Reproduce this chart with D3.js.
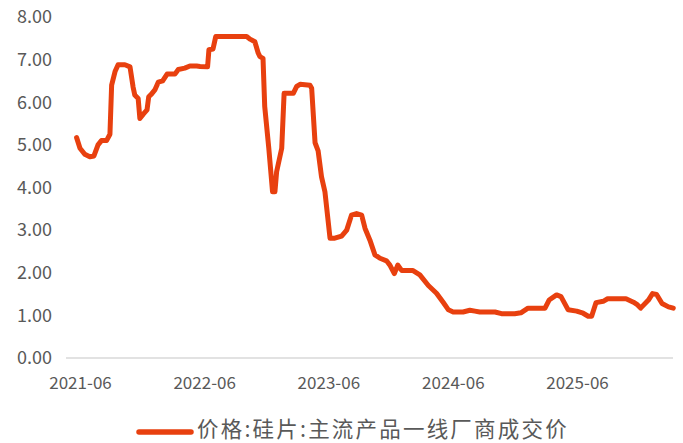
<!DOCTYPE html>
<html>
<head>
<meta charset="utf-8">
<script src="https://cdn.jsdelivr.net/npm/d3@7"></script>
<style>
  html, body { margin: 0; padding: 0; background: #ffffff; }
  svg { display: block; }
  text { font-family: "Noto Sans CJK SC", "Noto Sans", sans-serif; fill: #595959; }
</style>
</head>
<body>
<svg id="chart" width="683" height="443"></svg>
<script>
// 价格:硅片:主流产品一线厂商成交价 (元/片)
const dates = [
  "2021-05-22","2021-06-01","2021-06-15","2021-06-30","2021-07-12","2021-07-24","2021-08-03","2021-08-18",
  "2021-08-28","2021-09-02","2021-09-12","2021-09-21","2021-10-11","2021-10-26","2021-11-04","2021-11-09",
  "2021-11-19","2021-11-24","2021-12-04","2021-12-15","2021-12-20","2021-12-28","2022-01-07","2022-01-17",
  "2022-01-30","2022-02-12","2022-03-07","2022-03-17","2022-04-05","2022-04-20","2022-05-10","2022-05-20",
  "2022-06-11","2022-06-15","2022-06-27","2022-07-05","2022-10-04","2022-10-14","2022-10-28","2022-11-07",
  "2022-11-12","2022-11-21","2022-11-26","2022-12-08","2022-12-19","2022-12-26","2022-12-31","2023-01-15",
  "2023-01-22","2023-02-18","2023-02-28","2023-03-10","2023-04-08","2023-04-13","2023-04-23","2023-05-02",
  "2023-05-12","2023-05-22","2023-06-06","2023-06-20","2023-07-10","2023-07-25","2023-08-08","2023-08-23",
  "2023-09-07","2023-09-17","2023-10-01","2023-10-16","2023-10-31","2023-11-19","2023-11-29","2023-12-12",
  "2023-12-22","2024-01-03","2024-02-05","2024-02-25","2024-03-21","2024-04-14","2024-05-04","2024-05-19",
  "2024-06-02","2024-07-01","2024-07-21","2024-08-05","2024-08-19","2024-10-03","2024-10-22","2024-11-30",
  "2024-12-18","2025-01-08","2025-02-27","2025-03-11","2025-04-02","2025-04-15","2025-05-06","2025-05-31",
  "2025-06-19","2025-07-04","2025-07-14","2025-07-27","2025-08-17","2025-08-30","2025-10-23","2025-11-14",
  "2025-11-24","2025-12-05","2025-12-28","2026-01-09","2026-01-21","2026-02-06","2026-02-25","2026-03-11"
];
const prices = [
  5.17, 4.92, 4.78, 4.72, 4.74, 5.00, 5.10, 5.10,
  5.25, 6.40, 6.72, 6.88, 6.88, 6.83, 6.36, 6.17,
  6.09, 5.62, 5.72, 5.82, 6.13, 6.19, 6.29, 6.47,
  6.50, 6.66, 6.66, 6.77, 6.80, 6.85, 6.85, 6.84,
  6.83, 7.23, 7.25, 7.54, 7.54, 7.48, 7.42, 7.15,
  7.07, 7.03, 5.90, 4.92, 3.90, 3.90, 4.37, 4.92,
  6.21, 6.21, 6.37, 6.42, 6.40, 6.33, 5.05, 4.86,
  4.25, 3.90, 2.81, 2.81, 2.86, 3.00, 3.35, 3.39,
  3.35, 3.04, 2.77, 2.42, 2.34, 2.28, 2.18, 1.98,
  2.18, 2.05, 2.05, 1.95, 1.70, 1.52, 1.30, 1.13,
  1.08, 1.08, 1.12, 1.10, 1.08, 1.08, 1.04, 1.04,
  1.06, 1.17, 1.17, 1.36, 1.48, 1.44, 1.13, 1.10,
  1.05, 0.98, 0.98, 1.30, 1.33, 1.39, 1.39, 1.31,
  1.26, 1.17, 1.36, 1.51, 1.49, 1.28, 1.20, 1.17
];
const yTicks = [0, 1, 2, 3, 4, 5, 6, 7, 8];
const xTicks = ["2021-06", "2022-06", "2023-06", "2024-06", "2025-06"];
const seriesName = "价格:硅片:主流产品一线厂商成交价";

const parseDay = d3.timeParse("%Y-%m-%d");
const parseMonth = d3.timeParse("%Y-%m");
const data = dates.map((d, i) => ({ date: parseDay(d), value: prices[i] }));

const svg = d3.select("#chart");
const lineColor = "#e8400f";

const plotLeft = 66, plotRight = 673;
const x = d3.scaleTime()
  .domain([parseMonth(xTicks[0]), parseMonth(xTicks[xTicks.length - 1])])
  .range([80, 577]);
const y = d3.scaleLinear().domain([0, 8]).range([358, 17]);

// value axis labels (no axis line, no gridlines)
const yAxis = d3.axisLeft(y)
  .tickValues(yTicks)
  .tickFormat(d3.format(".2f"))
  .tickSize(0)
  .tickPadding(0);
const gy = svg.append("g").attr("transform", "translate(52,0)").call(yAxis);
gy.select(".domain").remove();
gy.selectAll("text")
  .attr("font-size", 18)
  .attr("font-family", null)
  .style("fill", "#595959");

// category baseline
svg.append("line")
  .attr("x1", plotLeft).attr("x2", plotRight)
  .attr("y1", y(0)).attr("y2", y(0))
  .attr("stroke", "#d9d9d9").attr("stroke-width", 1.5);

// date axis labels
const xAxis = d3.axisBottom(x)
  .tickValues(xTicks.map(parseMonth))
  .tickFormat(d3.timeFormat("%Y-%m"))
  .tickSize(0)
  .tickPadding(0);
const gx = svg.append("g").attr("transform", "translate(0,377)").call(xAxis);
gx.select(".domain").remove();
gx.selectAll("text")
  .attr("font-size", 17)
  .attr("font-family", null)
  .attr("dy", "0.71em")
  .style("fill", "#595959");

// price line
const line = d3.line()
  .x(d => x(d.date))
  .y(d => y(d.value));
svg.append("path")
  .datum(data)
  .attr("d", line)
  .attr("fill", "none")
  .attr("stroke", lineColor)
  .attr("stroke-width", 5)
  .attr("stroke-linejoin", "round")
  .attr("stroke-linecap", "round");

// legend
const lg = svg.append("g").attr("transform", "translate(0,432)");
lg.append("line")
  .attr("x1", 139).attr("x2", 191)
  .attr("y1", 0).attr("y2", 0)
  .attr("stroke", lineColor).attr("stroke-width", 5.5)
  .attr("stroke-linecap", "round");
lg.append("text")
  .attr("x", 197).attr("y", -2.4)
  .attr("dy", "0.33em")
  .attr("font-size", 21.5)
  .attr("letter-spacing", 2.2)
  .text(seriesName);
</script>
</body>
</html>
